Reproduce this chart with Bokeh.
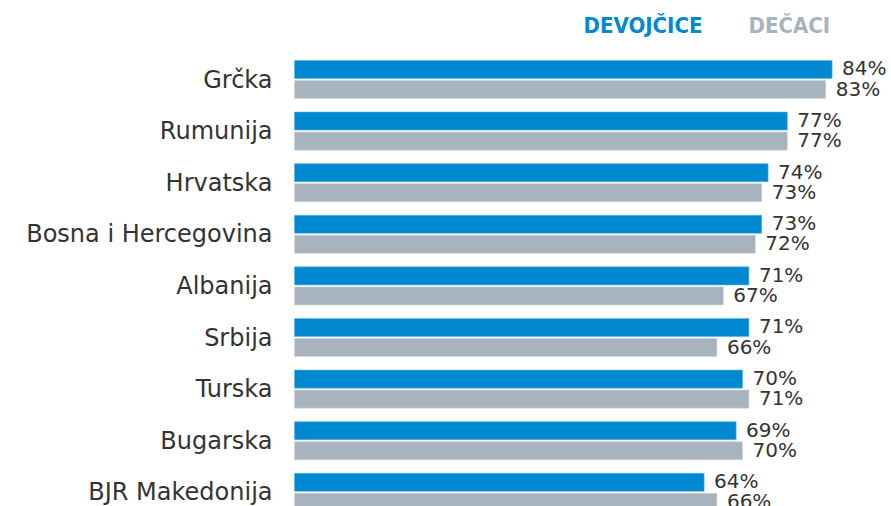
from bokeh.plotting import figure
from bokeh.models import ColumnDataSource, Range1d, Label
from bokeh.core.properties import value
from bokeh.embed import file_html
from bokeh.resources import INLINE

countries = ["Grčka", "Rumunija", "Hrvatska", "Bosna i Hercegovina", "Albanija",
             "Srbija", "Turska", "Bugarska", "BJR Makedonija"]
devojcice = [84, 77, 74, 73, 71, 71, 70, 69, 64]
decaci = [83, 77, 73, 72, 67, 66, 71, 70, 66]
series_names = ["DEVOJČICE", "DEČACI"]

BLUE = "#0089D0"
GRAY = "#A8B4BD"
TXT = "#333333"

W, H = 891, 506
pos = [-i for i in range(len(countries))]

p = figure(width=W, height=H, output_backend="svg", toolbar_location=None,
           x_range=Range1d(-45.94, 93.28), y_range=Range1d(-8.275, 1.531),
           min_border=0, min_border_left=0, min_border_right=0,
           min_border_top=0, min_border_bottom=0)
p.axis.visible = False
p.grid.visible = False
p.outline_line_color = None
p.background_fill_color = "white"

src = ColumnDataSource(dict(
    country=countries,
    y=pos,
    yb=[v + 0.194 for v in pos],
    yg=[v - 0.194 for v in pos],
    dev=devojcice,
    dec=decaci,
    devl=[f"{v}%" for v in devojcice],
    decl=[f"{v}%" for v in decaci],
))

p.hbar(y="yb", left=0, right="dev", height=0.35, source=src,
       fill_color=BLUE, line_color="#5AB4E6", line_width=0.6)
p.hbar(y="yg", left=0, right="dec", height=0.35, source=src,
       fill_color=GRAY, line_color="#CCD4DA", line_width=0.6)

p.text(x=0, y="y", text="country", source=src, x_offset=-22,
       text_align="right", text_baseline="middle",
       text_font=value("DejaVu Sans"), text_font_size="24px", text_color=TXT)

p.text(x="dev", y="yb", text="devl", source=src, x_offset=10, y_offset=-1,
       text_align="left", text_baseline="middle",
       text_font=value("DejaVu Sans"), text_font_size="20px", text_color=TXT)
p.text(x="dec", y="yg", text="decl", source=src, x_offset=10, y_offset=-1,
       text_align="left", text_baseline="middle",
       text_font=value("DejaVu Sans"), text_font_size="20px", text_color=TXT)

p.add_layout(Label(x=583, y=H - 25, x_units="screen", y_units="screen",
                   text=series_names[0], text_color=BLUE, text_font="DejaVu Sans Condensed",
                   text_font_style="bold", text_font_size="22px",
                   text_baseline="middle", text_align="left"))
p.add_layout(Label(x=748, y=H - 25, x_units="screen", y_units="screen",
                   text=series_names[1], text_color=GRAY, text_font="DejaVu Sans Condensed",
                   text_font_style="bold", text_font_size="22px",
                   text_baseline="middle", text_align="left"))

open("out.html", "w").write(file_html(p, INLINE))
